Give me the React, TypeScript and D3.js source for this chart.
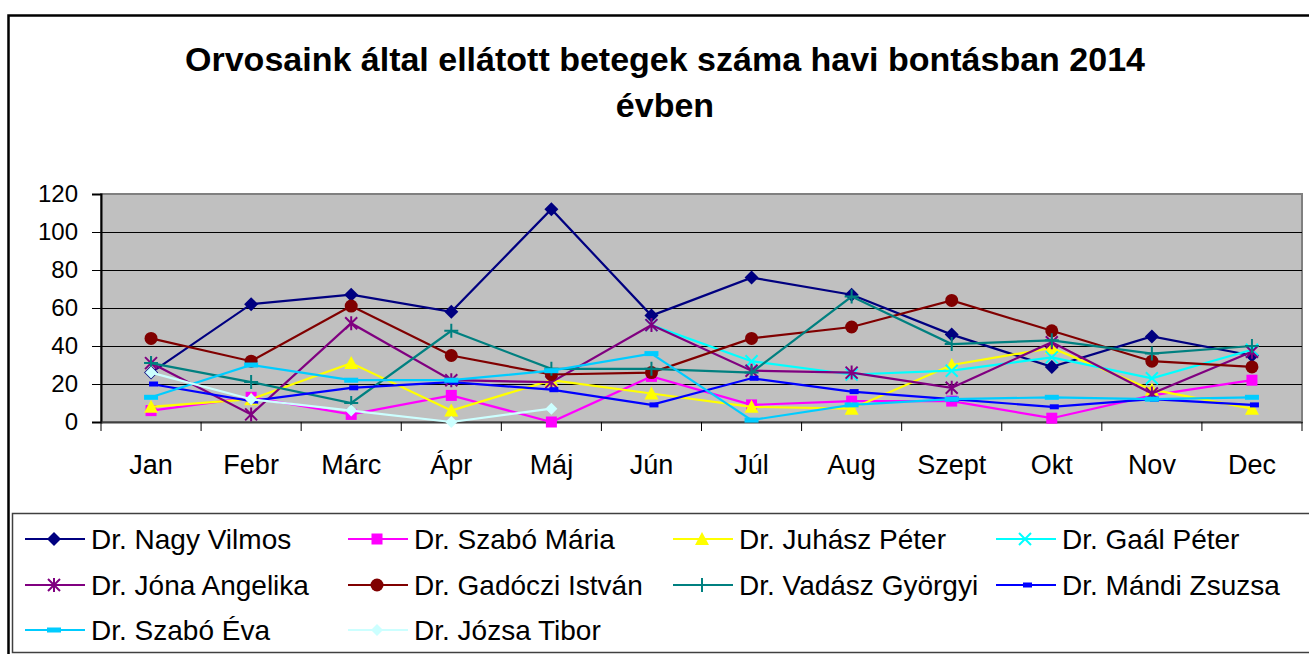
import * as d3 from "d3";
import { useEffect, useRef } from "react";

const months = ["Jan", "Febr", "Márc", "Ápr", "Máj", "Jún", "Júl", "Aug", "Szept", "Okt", "Nov", "Dec"];
const yTicks = [0, 20, 40, 60, 80, 100, 120];

const nagyVilmos = [26, 62, 67, 58, 112, 56, 76, 67, 46, 29, 45, 35];
const szaboMaria = [6, 13, 4, 14, 0, 24, 9, 11, 11, 2, 14, 22];
const juhaszPeter = [8, 12, 31, 6, 22, 15, 8, 7, 30, 39, 17, 7];
const gaalPeter = [null, null, null, null, null, 51, 32, 25, 27, 34, 23, 38];
const jonaAngelika = [31, 4, 52, 22, 21, 51, 27, 26, 18, 42, 15, 37];
const gadoczi = [44, 32, 61, 35, 25, 26, 44, 50, 64, 48, 32, 29];
const vadasz = [31, 21, 10, 48, 28, 28, 26, 66, 41, 43, 36, 40];
const mandi = [20, 11, 18, 21, 17, 9, 23, 16, 12, 8, 12, 9];
const szaboEva = [13, 30, 22, 22, 27, 36, 1, 9, 12, 13, 12, 13];
const jozsa = [26, 12, 6, 0, 7, null, null, null, null, null, null, null];

const series = [
  { name: "Dr. Nagy Vilmos", values: nagyVilmos, color: "#000080", marker: "diamond" },
  { name: "Dr. Szabó Mária", values: szaboMaria, color: "#FF00FF", marker: "square" },
  { name: "Dr. Juhász Péter", values: juhaszPeter, color: "#FFFF00", marker: "triangle" },
  { name: "Dr. Gaál Péter", values: gaalPeter, color: "#00FFFF", marker: "x" },
  { name: "Dr. Jóna Angelika", values: jonaAngelika, color: "#800080", marker: "star" },
  { name: "Dr. Gadóczi István", values: gadoczi, color: "#800000", marker: "circle" },
  { name: "Dr. Vadász Györgyi", values: vadasz, color: "#008080", marker: "plus" },
  { name: "Dr. Mándi Zsuzsa", values: mandi, color: "#0000FF", marker: "dash" },
  { name: "Dr. Szabó Éva", values: szaboEva, color: "#00CCFF", marker: "longdash" },
  { name: "Dr. Józsa Tibor", values: jozsa, color: "#CCFFFF", marker: "smalldiamond" },
];

const FONT = "'Liberation Sans', Arial, sans-serif";

function drawMarker(g: any, type: string, x: number, y: number, color: string) {
  switch (type) {
    case "diamond":
      g.append("path").attr("d", `M${x},${y - 7}L${x + 7},${y}L${x},${y + 7}L${x - 7},${y}Z`).attr("fill", color);
      break;
    case "smalldiamond":
      g.append("path").attr("d", `M${x},${y - 6}L${x + 6},${y}L${x},${y + 6}L${x - 6},${y}Z`).attr("fill", color);
      break;
    case "square":
      g.append("rect").attr("x", x - 5.5).attr("y", y - 5.5).attr("width", 11).attr("height", 11).attr("fill", color);
      break;
    case "triangle":
      g.append("path").attr("d", `M${x},${y - 7}L${x + 7},${y + 6}L${x - 7},${y + 6}Z`).attr("fill", color);
      break;
    case "circle":
      g.append("circle").attr("cx", x).attr("cy", y).attr("r", 6.5).attr("fill", color);
      break;
    case "x":
      g.append("path").attr("d", `M${x - 6},${y - 6}L${x + 6},${y + 6}M${x - 6},${y + 6}L${x + 6},${y - 6}`)
        .attr("stroke", color).attr("stroke-width", 2);
      break;
    case "star":
      g.append("path").attr("d", `M${x - 6},${y - 6}L${x + 6},${y + 6}M${x - 6},${y + 6}L${x + 6},${y - 6}M${x},${y - 7}L${x},${y + 7}`)
        .attr("stroke", color).attr("stroke-width", 2);
      break;
    case "plus":
      g.append("path").attr("d", `M${x - 7},${y}L${x + 7},${y}M${x},${y - 7}L${x},${y + 7}`)
        .attr("stroke", color).attr("stroke-width", 2);
      break;
    case "dash":
      g.append("rect").attr("x", x - 2).attr("y", y - 2.5).attr("width", 9).attr("height", 5).attr("fill", color);
      break;
    case "longdash":
      g.append("rect").attr("x", x - 7).attr("y", y - 2.5).attr("width", 14).attr("height", 5).attr("fill", color);
      break;
  }
}

function createChart(svgEl: SVGSVGElement) {
  const svg = d3.select(svgEl);
  svg.selectAll("*").remove();

  const left = 101, right = 1302, top = 194, bottom = 422;

  const x = d3.scaleBand().domain(months).range([left, right]).padding(0);
  const y = d3.scaleLinear().domain([0, 120]).range([bottom, top]);
  const cx = (m: string) => (x(m) as number) + x.bandwidth() / 2;

  // outer chart frame
  svg.append("rect").attr("x", 8.5).attr("y", 15.5).attr("width", 1400).attr("height", 700)
    .attr("fill", "white").attr("stroke", "black").attr("stroke-width", 2.5);

  // title
  const title = svg.append("text").attr("text-anchor", "middle").attr("font-family", FONT)
    .attr("font-weight", "bold").attr("font-size", 34).attr("fill", "black");
  title.append("tspan").attr("x", 665).attr("y", 71).text("Orvosaink által ellátott betegek száma havi bontásban 2014");
  title.append("tspan").attr("x", 665).attr("y", 117).text("évben");

  // plot area
  svg.append("rect").attr("x", left).attr("y", top).attr("width", right - left).attr("height", bottom - top)
    .attr("fill", "#C0C0C0").attr("stroke", "#808080").attr("stroke-width", 2);

  // gridlines
  svg.append("g").selectAll("line").data(yTicks.filter((t) => t > 0 && t < 120)).enter().append("line")
    .attr("x1", left).attr("x2", right).attr("y1", (d) => Math.round(y(d)) + 0.5).attr("y2", (d) => Math.round(y(d)) + 0.5)
    .attr("stroke", "#000").attr("stroke-width", 1);

  // y axis
  const yAxis = svg.append("g").attr("transform", `translate(${left},0)`)
    .call(d3.axisLeft(y).tickValues(yTicks).tickSize(9).tickPadding(14));
  yAxis.select(".domain").attr("stroke", "#000").attr("stroke-width", 2);
  yAxis.selectAll("line").attr("stroke", "#000");
  yAxis.selectAll("text").attr("font-family", FONT).attr("font-size", 24).attr("fill", "#000");

  // x axis
  const xAxis = svg.append("g").attr("transform", `translate(0,${bottom})`)
    .call(d3.axisBottom(x).tickSize(0).tickPadding(33));
  xAxis.select(".domain").attr("stroke", "#404040").attr("stroke-width", 2);
  xAxis.selectAll("text").attr("font-family", FONT).attr("font-size", 27).attr("fill", "#000");
  svg.append("g").selectAll("line").data(d3.range(months.length + 1)).enter().append("line")
    .attr("x1", (i) => left + i * x.bandwidth()).attr("x2", (i) => left + i * x.bandwidth())
    .attr("y1", bottom).attr("y2", bottom + 9).attr("stroke", "#000");

  // series
  const line = d3.line<any>().defined((d) => d.v !== null).x((d) => cx(d.m)).y((d) => y(d.v));
  series.forEach((s) => {
    const pts = s.values.map((v, i) => ({ m: months[i], v }));
    const g = svg.append("g");
    g.append("path").datum(pts).attr("d", line).attr("fill", "none").attr("stroke", s.color).attr("stroke-width", 2.2);
    pts.filter((p) => p.v !== null).forEach((p) => drawMarker(g, s.marker, cx(p.m), y(p.v as number), s.color));
  });

  // legend
  svg.append("rect").attr("x", 12.5).attr("y", 513.5).attr("width", 1400).attr("height", 139)
    .attr("fill", "white").attr("stroke", "#404040").attr("stroke-width", 1.5);
  const colX = [25, 348, 673, 996];
  const rowY = [539, 585, 630];
  series.forEach((s, i) => {
    const lx = colX[i % 4];
    const ly = rowY[Math.floor(i / 4)];
    const g = svg.append("g");
    g.append("line").attr("x1", lx).attr("x2", lx + 60).attr("y1", ly).attr("y2", ly).attr("stroke", s.color).attr("stroke-width", 2.2);
    drawMarker(g, s.marker, lx + 29, ly, s.color);
    g.append("text").attr("x", lx + 66).attr("y", ly + 10).attr("font-family", FONT).attr("font-size", 28)
      .attr("fill", "#000").text(s.name);
  });
}

export default function App() {
  const ref = useRef<SVGSVGElement>(null);
  useEffect(() => {
    if (ref.current) createChart(ref.current);
  }, []);
  return (
    <svg ref={ref} width={1309} height={654}
      style={{ position: "absolute", left: 0, top: 0, background: "white" }} />
  );
}
